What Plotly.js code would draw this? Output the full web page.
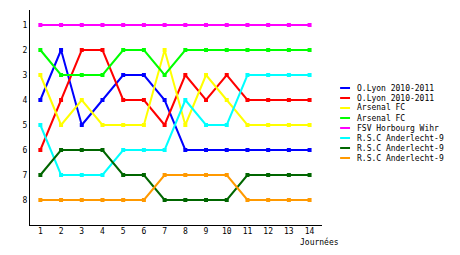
<!DOCTYPE html>
<html><head><meta charset="utf-8">
<script src="https://cdn.plot.ly/plotly-3.0.1.min.js"></script>
<style>html,body{margin:0;padding:0;background:#fff}#c{width:460px;height:255px}</style>
</head><body><div id="c"></div>
<script>
var journees = [1,2,3,4,5,6,7,8,9,10,11,12,13,14];
var names = ["O.Lyon 2010-2011","O.Lyon 2010-2011","Arsenal FC","Arsenal FC","FSV Horbourg Wihr","R.S.C Anderlecht-9","R.S.C Anderlecht-9","R.S.C Anderlecht-9"];
var colors = ["#0000ff","#ff0000","#ffff00","#00ff00","#ff00ff","#00ffff","#006600","#ff9900"];
var lyonA     = [4,2,5,4,3,3,4,6,6,6,6,6,6,6];
var lyonB     = [6,4,2,2,4,4,5,3,4,3,4,4,4,4];
var arsenalA  = [3,5,4,5,5,5,2,5,3,4,5,5,5,5];
var arsenalB  = [2,3,3,3,2,2,3,2,2,2,2,2,2,2];
var horbourg  = [1,1,1,1,1,1,1,1,1,1,1,1,1,1];
var anderA    = [5,7,7,7,6,6,6,4,5,5,3,3,3,3];
var anderB    = [7,6,6,6,7,7,8,8,8,8,7,7,7,7];
var anderC    = [8,8,8,8,8,8,7,7,7,7,8,8,8,8];
var series = [lyonA,lyonB,arsenalA,arsenalB,horbourg,anderA,anderB,anderC];
var rankTicks = [1,2,3,4,5,6,7,8];
var xLabel = "Journées";

var font = {family:"DejaVu Sans Mono, monospace", size:8, color:"#000"};
var traces = series.map(function(s,i){
  return {x:journees, y:s, name:names[i], type:"scatter", mode:"lines+markers",
    line:{color:colors[i], width:2}, marker:{color:colors[i], size:4, symbol:"square"},
    showlegend:false, hoverinfo:"none"};
});
var shapes = [], annotations = [];
names.forEach(function(n,i){
  var py = 88 + 10*i;
  var yp = (225 - py)/215;
  shapes.push({type:"line", xref:"paper", yref:"paper", x0:1.062, x1:1.096, y0:yp, y1:yp,
    line:{color:colors[i], width:2}});
  annotations.push({xref:"paper", yref:"paper", x:1.113, y:yp, xanchor:"left", yanchor:"middle",
    text:n, showarrow:false, font:font});
});
annotations.push({xref:"paper", yref:"paper", x:1.065, y:-0.08, xanchor:"right", yanchor:"middle",
  text:xLabel, showarrow:false, font:font});
var layout = {
  width:460, height:255, margin:{l:30, r:138, t:10, b:30},
  paper_bgcolor:"#fff", plot_bgcolor:"#fff", font:font, showlegend:false,
  xaxis:{range:[0.5,14.6], tickvals:journees, showgrid:false, zeroline:false,
    showline:true, linecolor:"#000", linewidth:1, ticks:"", tickfont:font, ticklabelstandoff:-2},
  yaxis:{range:[9,0.4], tickvals:rankTicks, showgrid:false, zeroline:false,
    showline:true, linecolor:"#000", linewidth:1, ticks:"", tickfont:font},
  shapes:shapes, annotations:annotations
};
Plotly.newPlot("c", traces, layout, {staticPlot:true, displayModeBar:false});
</script></body></html>
